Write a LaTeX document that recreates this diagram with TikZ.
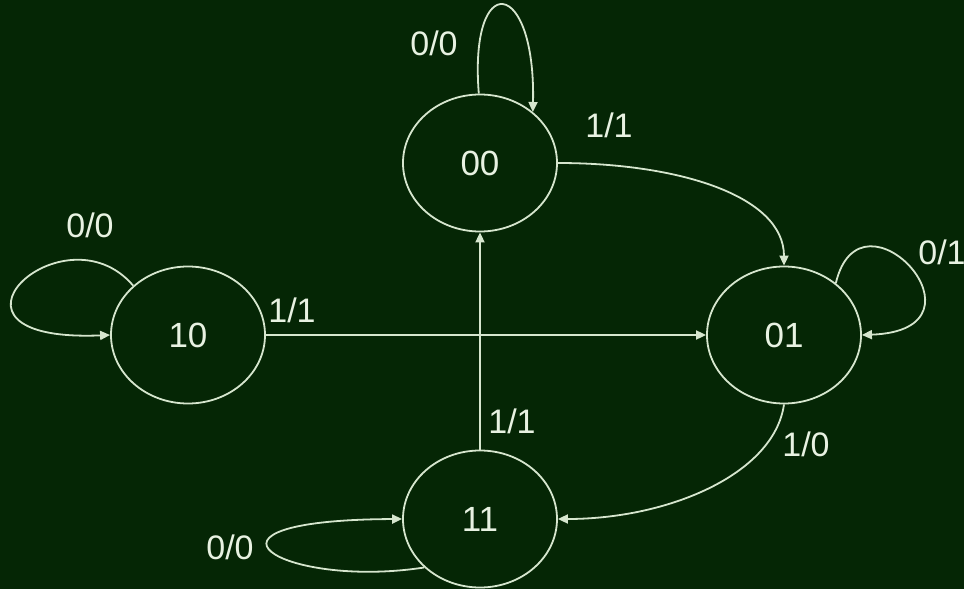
\documentclass[tikz,border=0pt]{standalone}
\usepackage{fontspec}
\setmainfont{Liberation Sans}
\definecolor{board}{RGB}{5, 38, 5}
\definecolor{chalk}{RGB}{214, 230, 206}
\definecolor{chalktext}{RGB}{232, 242, 226}
\usetikzlibrary{shapes.geometric, arrows.meta, positioning, calc}

\begin{document}
\begin{tikzpicture}[x=1pt, y=-1pt,
    state/.style={draw=chalk, line width=1.8pt, ellipse, inner sep=0pt,
                  minimum width=154pt, minimum height=137pt,
                  text=chalktext, font=\fontsize{35}{40}\selectfont},
    trans/.style={draw=chalk, line width=1.8pt,
                  -{Triangle[length=10pt, width=9pt]}},
    lbl/.style={text=chalktext, font=\fontsize{34}{40}\selectfont}
]
    \fill[board] (0,0) rectangle (964,589);
    \useasboundingbox (0,0) rectangle (964,589);

    % States
    \node[state] (s00) at (480,163) {00};
    \node[state] (s10) at (188,335) {10};
    \node[state] (s01) at (784,335) {01};
    \node[state] (s11) at (480,519) {11};

    % Transitions
    \draw[trans] (s00.91) .. controls +(-10,-125) and +(3,-135) .. (s00.44);
    \draw[trans] (s00.east) .. controls +(120,0) and +(0,-70) .. (s01.north);
    \draw[trans] (s10.east) -- (s01.west);
    \draw[trans] (s11.north) -- (s00.south);
    \draw[trans] (s01.south) .. controls +(-10,70) and +(110,0) .. (s11.east);
    \draw[trans] (s10.138) .. controls +(-70,-82) and +(-195,8) .. (s10.west);
    \draw[trans] (s01.45) .. controls +(25,-105) and +(138,-5) .. (s01.east);
    \draw[trans] (s11.221) .. controls +(-143,22) and +(-232,1) .. (s11.west);

    % Labels
    \node[lbl] (l00a) at (434,43) {0/0};
    \node[lbl] (l00b) at (609,125) {1/1};
    \node[lbl] (l10a) at (90,225) {0/0};
    \node[lbl] (l10b) at (292,310) {1/1};
    \node[lbl] (l01a) at (942,252) {0/1};
    \node[lbl] (l11a) at (512,421) {1/1};
    \node[lbl] (l01b) at (806,444) {1/0};
    \node[lbl] (l11b) at (230,547) {0/0};
\end{tikzpicture}
\end{document}
